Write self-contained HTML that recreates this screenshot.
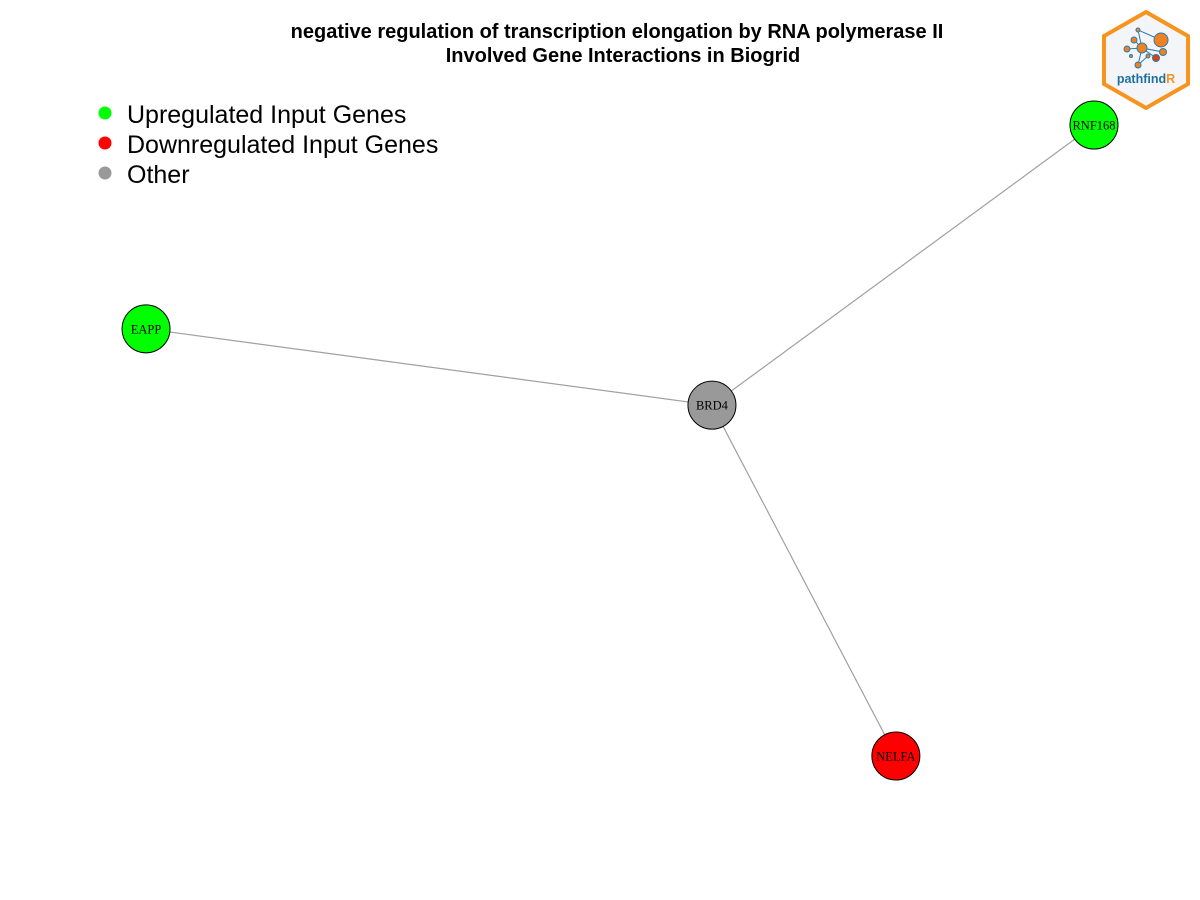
<!DOCTYPE html>
<html><head><meta charset="utf-8"><style>
body{margin:0;background:#fff;}
svg{display:block;}
</style></head><body>
<svg id="chart" width="1200" height="900" xmlns="http://www.w3.org/2000/svg">
<rect width="1200" height="900" fill="#fff"/>
<text x="617" y="38" text-anchor="middle" font-family="Liberation Sans, sans-serif" font-weight="bold" font-size="20">negative regulation of transcription elongation by RNA polymerase II</text>
<text x="623" y="62" text-anchor="middle" font-family="Liberation Sans, sans-serif" font-weight="bold" font-size="20">Involved Gene Interactions in Biogrid</text>
<g font-family="Liberation Sans, sans-serif" font-size="25">
<g><circle cx="105" cy="113" r="6.5" fill="#00ff00"/><text x="127" y="123">Upregulated Input Genes</text></g>
<g><circle cx="105" cy="143" r="6.5" fill="#ff0000"/><text x="127" y="153">Downregulated Input Genes</text></g>
<g><circle cx="105" cy="173" r="6.5" fill="#999999"/><text x="127" y="183">Other</text></g>
</g>
<g id="edges"></g>
<g id="nodes"></g>
<g>
<polygon points="1146,12 1188,36 1188,84 1146,108 1104,84 1104,36" fill="#f3f5f8" stroke="#f7941d" stroke-width="4"/>
<g stroke="#2a7ab0" stroke-width="1" fill="#f08020">
<line x1="1138" y1="30" x2="1161" y2="40"/><line x1="1138" y1="30" x2="1142" y2="48"/><line x1="1142" y1="48" x2="1127" y2="49"/><line x1="1142" y1="48" x2="1163" y2="52"/><line x1="1142" y1="48" x2="1138" y2="65"/><line x1="1142" y1="48" x2="1156" y2="58"/><line x1="1134" y1="40" x2="1142" y2="48"/><line x1="1148" y1="56" x2="1138" y2="65"/>
<circle cx="1138" cy="30" r="2"/><circle cx="1161" cy="40" r="7"/><circle cx="1134" cy="40" r="3"/><circle cx="1142" cy="48" r="5"/><circle cx="1127" cy="49" r="3"/><circle cx="1163" cy="52" r="3.5"/><circle cx="1156" cy="58" r="3.5" fill="#e04010"/><circle cx="1148" cy="56" r="2"/><circle cx="1138" cy="65" r="3"/><circle cx="1131" cy="56" r="1.5"/>
</g>
<text x="1146" y="83" text-anchor="middle" font-family="Liberation Sans, sans-serif" font-weight="bold" font-size="12.5" fill="#1f6f9f">pathfind<tspan fill="#f7941d">R</tspan></text>
</g>
</svg>
<script>
const nodeNames = ["BRD4", "RNF168", "EAPP", "NELFA"];
const nodeX = [0.597, 1.0, 0.0, 0.791];
const nodeY = [0.444, 0.0, 0.323, 1.0];
const nodeStatus = ["other", "up", "up", "down"];
const edgeFrom = [0, 0, 0];
const edgeTo = [1, 2, 3];
const colors = {up:"#00ff00", down:"#ff0000", other:"#999999"};
const sx = v => 146 + v * (1094 - 146);
const sy = v => 125 + v * (756 - 125);
const NS = "http://www.w3.org/2000/svg";
const eg = document.getElementById("edges"), ng = document.getElementById("nodes");
edgeFrom.forEach((f, i) => {
  const t = edgeTo[i];
  const l = document.createElementNS(NS, "line");
  l.setAttribute("x1", sx(nodeX[f])); l.setAttribute("y1", sy(nodeY[f]));
  l.setAttribute("x2", sx(nodeX[t])); l.setAttribute("y2", sy(nodeY[t]));
  l.setAttribute("stroke", "#a0a0a0"); l.setAttribute("stroke-width", "1.2");
  
  
  eg.appendChild(l);
});
nodeNames.forEach((n, i) => {
  const g = document.createElementNS(NS, "g");
  
  
  const c = document.createElementNS(NS, "circle");
  c.setAttribute("cx", sx(nodeX[i])); c.setAttribute("cy", sy(nodeY[i])); c.setAttribute("r", 24);
  c.setAttribute("fill", colors[nodeStatus[i]]); c.setAttribute("stroke", "#000"); c.setAttribute("stroke-width", "1");
  const t = document.createElementNS(NS, "text");
  t.setAttribute("x", sx(nodeX[i])); t.setAttribute("y", sy(nodeY[i]) + 4.5);
  t.setAttribute("text-anchor", "middle"); t.setAttribute("font-family", "Liberation Serif, serif"); t.setAttribute("font-size", "12.5");
  t.textContent = n;
  g.appendChild(c); g.appendChild(t); ng.appendChild(g);
});
</script>
</body></html>
